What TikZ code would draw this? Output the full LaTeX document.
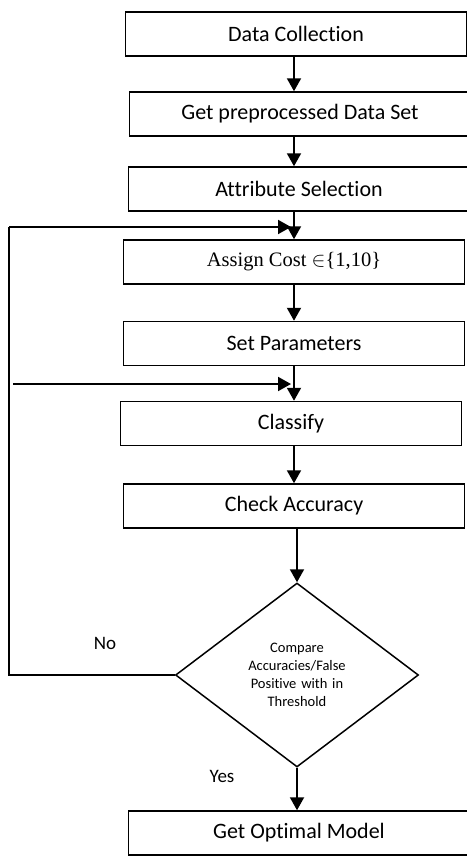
\documentclass[tikz,border=0pt]{standalone}
\usepackage{fontspec}
\setmainfont[Ligatures=NoCommon]{Carlito}
\newfontfamily\costfont{Liberation Serif}
\usetikzlibrary{positioning}
\usetikzlibrary{arrows.meta,shapes.geometric}

\tikzset{
	stepbox/.style={draw, line width=1.5pt, minimum width=341pt, minimum height=44pt, inner sep=0pt, font=\fontsize{22}{26}\selectfont},
	flow/.style={line width=2pt, -{Triangle[length=13pt,width=14pt]}},
	loopline/.style={line width=2pt},
}

\begin{document}
\begin{tikzpicture}[x=1pt,y=-1pt]
		\useasboundingbox (0,0) rectangle (466,857);
		
		\node[stepbox] (dc) at (296,34) {Data Collection};
		\node[stepbox] (pp) at (300,114) {Get preprocessed Data Set};
		\node[stepbox] (as) at (299,189) {Attribute Selection};
		\node[stepbox, font=\costfont\fontsize{20.5}{24}\selectfont] (ac) at (294,262) {Assign Cost $\in$\{1,10\}};
		\node[stepbox] (sp) at (294,343.5) {Set Parameters};
		\node[stepbox] (cl) at (291,423.5) {Classify};
		\node[stepbox] (ck) at (294,506) {Check Accuracy};
		\node[stepbox] (gm) at (299,833) {Get Optimal Model};
		
		\node[draw, diamond, line width=1.5pt, minimum width=243pt, minimum height=184pt, inner sep=0pt,
			text width=120pt, align=center, font=\fontsize{14.5}{18}\selectfont] (dm) at (297,675)
			{Compare\\Accuracies/False\\Positive with in\\Threshold\\[2pt]};
		
		\draw[flow] (dc.south -| ac.north) -- (pp.north -| ac.north);
		\draw[flow] (pp.south -| ac.north) -- (as.north -| ac.north);
		\draw[flow] (as.south -| ac.north) -- (ac.north);
		\draw[flow] (ac.south) -- (sp.north);
		\draw[flow] (sp.south) -- (sp.south |- cl.north);
		\draw[flow] (cl.south -| sp.south) -- (ck.north -| sp.south);
		\draw[flow] (ck.south -| dm.north) -- (dm.north);
		\draw[flow] (dm.south) -- (dm.south |- gm.north);
		
		% No branch back to the cost step
		\coordinate (lp) at (9,227);
		\draw[loopline] (dm.west) -| (lp);
		\draw[flow] (lp) -- ([xshift=-3pt]lp -| ac.north);
		
		\coordinate (rp) at (13,384);
		\draw[flow] (rp) -- ([xshift=-3pt]rp -| sp.south);
		
		\node () at (105,643) {\fontsize{19}{22}\selectfont No};
		\node () at (222,776) {\fontsize{19}{22}\selectfont Yes};
	\end{tikzpicture}
\end{document}
